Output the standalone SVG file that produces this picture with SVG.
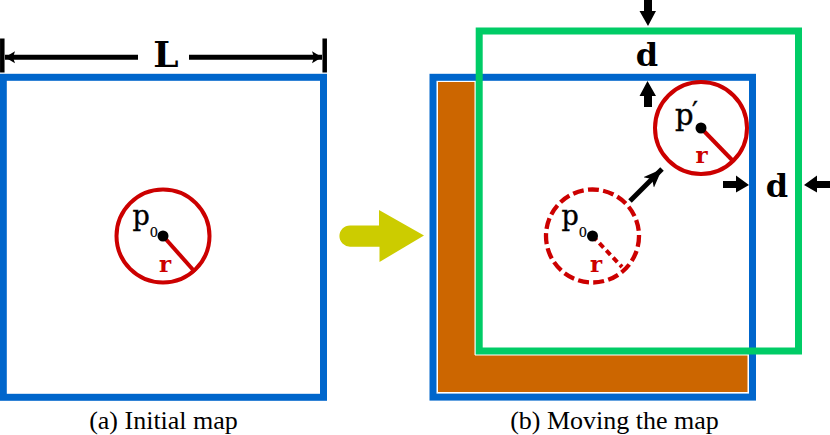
<svg xmlns="http://www.w3.org/2000/svg" width="830" height="435" viewBox="0 0 830 435">
<defs>
<marker id="dimHead" markerUnits="userSpaceOnUse" markerWidth="11" markerHeight="14" refX="10" refY="7" orient="auto-start-reverse"><path d="M0,1 L10,7 L0,13 L2,7 Z" fill="#000"/></marker>
<marker id="moveHead" markerUnits="userSpaceOnUse" markerWidth="20" markerHeight="16" refX="19" refY="8" orient="auto"><path d="M0,0.5 L19,8 L0,15.500 L5,8 Z" fill="#000"/></marker>
</defs>
<style>
.blue{fill:none;stroke:#0066cc;stroke-width:7}
.green{fill:none;stroke:#00cc66;stroke-width:7}
.circ{fill:#fff;stroke:#cc0000;stroke-width:4}
.dash{fill:none;stroke:#cc0000;stroke-width:4.300;stroke-dasharray:11 4.300}
.rad{stroke:#cc0000;stroke-width:4;fill:none}
.dim{stroke:#000;stroke-width:5;fill:none}
.tick{stroke:#000;stroke-width:4.500;fill:none}
.dot{fill:#000}
text{font-family:"DejaVu Serif",serif;fill:#000}
.sym{font-weight:bold;text-anchor:middle}
.L{font-size:36px}
.d{font-size:32px}
.p{font-size:27px;stroke:#000;stroke-width:.4}
.pm{font-size:29px;stroke:#000;stroke-width:.4}
.sub{font-size:13px;stroke-width:.2}
.prime{font-size:26px}
.r{font-weight:bold;font-size:23px;fill:#cc0000;text-anchor:middle}
.cap{font-family:"Liberation Serif","Times New Roman",serif;font-size:26px;text-anchor:middle}
</style>
<g id="map-a"><rect class="blue" x="3.300" y="77.300" width="320.200" height="320"/></g>
<g id="dimension-L">
<path class="tick" d="M2.300,38.500V72.500M324.700,38.500V72.500"/>
<path class="dim" d="M138,57.300H5" marker-end="url(#dimHead)"/>
<path class="dim" d="M189,57.300H322" marker-end="url(#dimHead)"/>
<text class="sym L" x="166" y="66.500">L</text>
</g>
<g id="circle-p0">
<circle class="circ" cx="163" cy="236" r="46.500"/>
<path class="rad" d="M163,236L195,272"/>
<circle class="dot" cx="163" cy="236" r="5.500"/>
<text class="p" x="132.500" y="225">p<tspan class="sub" dy="12">0</tspan></text>
<text class="r" x="165" y="272">r</text>
</g>
<g id="transition-arrow"><path d="M350,225.500H379V210L424,235.500L379.500,262V246.700H350A10.600,10.600 0 0 1 350,225.500Z" fill="#cccc00"/></g>
<g id="map-b">
<rect class="blue" x="433" y="77.300" width="319.500" height="319.800"/>
<path id="swept-area" d="M437.500,81.500H475V355H748V392.500H437.500Z" fill="#cc6600" stroke="#fff" stroke-width="1"/>
</g>
<g id="map-moved"><rect class="green" x="479.200" y="31" width="319.300" height="320"/></g>
<g id="circle-p0-old">
<circle class="dash" cx="592.500" cy="236" r="46.500"/>
<path class="rad" d="M592.500,236L622,267" stroke-dasharray="6 4"/>
<circle class="dot" cx="592.500" cy="236" r="5.500"/>
<text class="p" x="561.500" y="225">p<tspan class="sub" dy="12">0</tspan></text>
<text class="r" x="596" y="272">r</text>
</g>
<g id="circle-p-prime">
<circle class="circ" cx="701" cy="128" r="46"/>
<path class="rad" d="M701,128L734,162"/>
<circle class="dot" cx="701" cy="128" r="5.500"/>
<text class="pm" x="675" y="125">p<tspan class="prime" x="692" dy="-5">′</tspan></text>
<text class="r" x="701.500" y="163">r</text>
</g>
<g id="connectors">
<path class="dim" d="M630,201L662,169" marker-end="url(#moveHead)"/>
<path d="M644,0H652V11H656L648,26L639.500,11H644Z" class="dot"/>
<path d="M644,107V96H639.500L647.500,81L656,96H652V107Z" class="dot"/>
<path d="M723,181H736V175.500L749,185L736,192.500V188H723Z" class="dot"/>
<path d="M830,181H817V175.500L804,185L817,192.500V188H830Z" class="dot"/>
</g>
<g id="label-d-top"><text class="sym d" x="647" y="65.500">d</text></g>
<g id="label-d-right"><text class="sym d" x="777" y="197">d</text></g>
<g id="caption-a"><text class="cap" x="163.500" y="429">(a) Initial map</text></g>
<g id="caption-b"><text class="cap" x="614.500" y="429">(b) Moving the map</text></g>
</svg>
